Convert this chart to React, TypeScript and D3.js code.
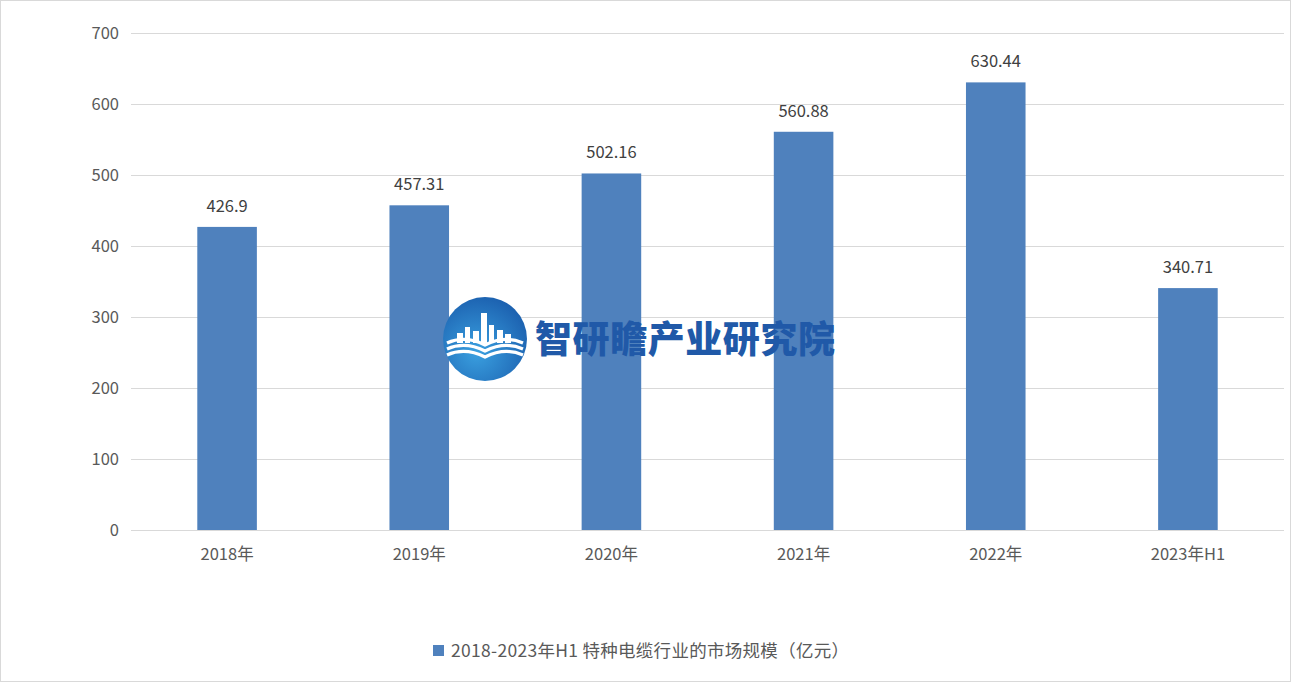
import React, { useEffect, useRef } from 'react';
import * as d3 from 'd3';

const categories = ['2018年', '2019年', '2020年', '2021年', '2022年', '2023年H1'];
const values = [426.9, 457.31, 502.16, 560.88, 630.44, 340.71];
const valueLabels = ['426.9', '457.31', '502.16', '560.88', '630.44', '340.71'];
const yTicks = [0, 100, 200, 300, 400, 500, 600, 700];
const seriesName = '2018-2023年H1 特种电缆行业的市场规模（亿元）';
const watermark = '智研瞻产业研究院';

const width = 1292;
const height = 683;
const font = '"Noto Sans CJK SC", "Open Sans", sans-serif';

const App: React.FC = () => {
  const svgRef = useRef<SVGSVGElement>(null);

  useEffect(() => {
    if (!svgRef.current) return;
    const svg = d3.select(svgRef.current);
    svg.selectAll('*').remove();

    const margin = { top: 33, right: 8, bottom: 153, left: 131 };
    const innerWidth = width - margin.left - margin.right;
    const innerHeight = height - margin.top - margin.bottom;

    // outer frame
    svg.append('rect')
      .attr('x', 0.5).attr('y', 0.5)
      .attr('width', width - 2).attr('height', height - 2)
      .attr('fill', '#fff')
      .attr('stroke', '#d9d9d9');

    const x = d3.scaleBand<string>()
      .domain(categories)
      .range([0, innerWidth])
      .paddingInner(0.69)
      .paddingOuter(0.345);

    const y = d3.scaleLinear()
      .domain([0, 700])
      .range([innerHeight, 0]);

    const g = svg.append('g')
      .attr('transform', `translate(${margin.left},${margin.top})`);

    // gridlines
    g.selectAll('line.grid')
      .data(yTicks)
      .enter()
      .append('line')
      .attr('class', 'grid')
      .attr('x1', 0)
      .attr('x2', innerWidth)
      .attr('y1', d => Math.round(y(d)) + 0.5)
      .attr('y2', d => Math.round(y(d)) + 0.5)
      .attr('stroke', '#d9d9d9')
      .attr('stroke-width', 1);

    // y tick labels
    g.selectAll('text.ytick')
      .data(yTicks)
      .enter()
      .append('text')
      .attr('class', 'ytick')
      .attr('x', -12)
      .attr('y', d => y(d))
      .attr('dy', '0.35em')
      .attr('text-anchor', 'end')
      .attr('font-family', font)
      .attr('font-size', 16.5)
      .attr('fill', '#595959')
      .text(d => d);

    // bars
    g.selectAll('rect.bar')
      .data(values)
      .enter()
      .append('rect')
      .attr('class', 'bar')
      .attr('x', (d, i) => x(categories[i])!)
      .attr('y', d => y(d))
      .attr('width', x.bandwidth())
      .attr('height', d => innerHeight - y(d))
      .attr('fill', '#4f81bd');

    // value labels
    g.selectAll('text.val')
      .data(values)
      .enter()
      .append('text')
      .attr('class', 'val')
      .attr('x', (d, i) => x(categories[i])! + x.bandwidth() / 2)
      .attr('y', d => y(d) - 15)
      .attr('text-anchor', 'middle')
      .attr('font-family', font)
      .attr('font-size', 16.5)
      .attr('fill', '#404040')
      .text((d, i) => valueLabels[i]);

    // x axis line
    g.append('line')
      .attr('x1', 0).attr('x2', innerWidth)
      .attr('y1', innerHeight + 0.5).attr('y2', innerHeight + 0.5)
      .attr('stroke', '#d9d9d9');

    // x labels
    g.selectAll('text.xtick')
      .data(categories)
      .enter()
      .append('text')
      .attr('class', 'xtick')
      .attr('x', d => x(d)! + x.bandwidth() / 2)
      .attr('y', innerHeight + 30)
      .attr('text-anchor', 'middle')
      .attr('font-family', font)
      .attr('font-size', 16.5)
      .attr('fill', '#595959')
      .text(d => d);

    // legend
    const legend = svg.append('g').attr('transform', 'translate(433,645)');
    legend.append('rect')
      .attr('x', 0).attr('y', 0)
      .attr('width', 11).attr('height', 11)
      .attr('fill', '#4f81bd');
    legend.append('text')
      .attr('x', 18)
      .attr('y', 12)
      .attr('font-family', font)
      .attr('font-size', 17.5)
      .attr('fill', '#595959')
      .attr('textLength', 398)
      .attr('lengthAdjust', 'spacing')
      .text(seriesName);

    // watermark logo
    const defs = svg.append('defs');
    const grad = defs.append('radialGradient')
      .attr('id', 'logoGrad')
      .attr('cx', '40%').attr('cy', '65%').attr('r', '70%');
    grad.append('stop').attr('offset', '0%').attr('stop-color', '#3aa0e0');
    grad.append('stop').attr('offset', '100%').attr('stop-color', '#1b5fae');

    const logo = svg.append('g').attr('transform', 'translate(485,339)');
    logo.append('circle').attr('r', 42).attr('fill', 'url(#logoGrad)');
    // buildings
    const bld = [[-28, -6, 6, 10], [-20, -12, 5, 16], [-12, -8, 6, 12], [-4, -26, 6, 30], [4, -14, 5, 18], [12, -9, 6, 13], [20, -5, 6, 9]];
    logo.selectAll('rect.bld')
      .data(bld)
      .enter()
      .append('rect')
      .attr('x', d => d[0]).attr('y', d => d[1])
      .attr('width', d => d[2]).attr('height', d => d[3])
      .attr('fill', '#fff');
    // book waves
    [4, 10, 16].forEach(off => {
      logo.append('path')
        .attr('d', `M-38,${off} Q-20,${off - 8} 0,${off + 2} Q20,${off - 8} 38,${off}`)
        .attr('fill', 'none')
        .attr('stroke', '#fff')
        .attr('stroke-width', 3.2);
    });

    svg.append('text')
      .attr('x', 535)
      .attr('y', 353)
      .attr('font-family', font)
      .attr('font-size', 37)
      .attr('font-weight', 900)
      .attr('fill', '#2059a8')
      .attr('textLength', 300)
      .text(watermark);
  }, []);

  return (
    <svg
      ref={svgRef}
      width={width}
      height={height}
      style={{ position: 'absolute', left: 0, top: 0, display: 'block' }}
    />
  );
};

export default App;
